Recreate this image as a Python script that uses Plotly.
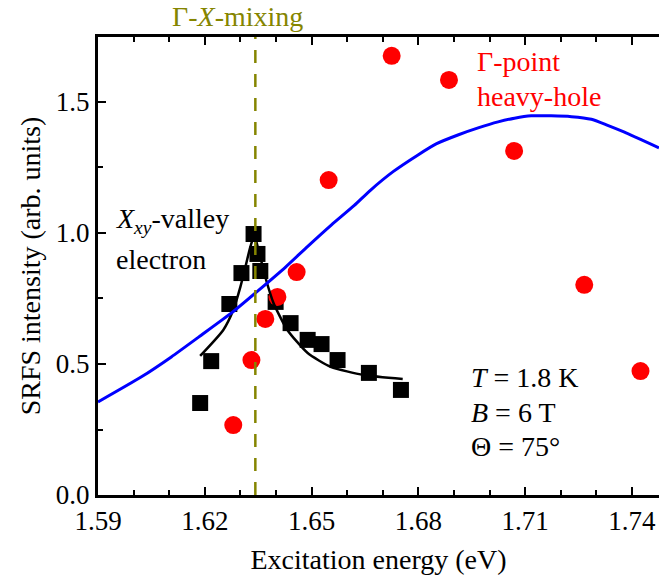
import plotly.graph_objects as go

# --- data ---
sq_x = [1.6187, 1.6218, 1.6269, 1.6303, 1.6337, 1.6348, 1.6356, 1.6399, 1.6441, 1.6489, 1.6528, 1.6573, 1.6661, 1.6751]
sq_y = [0.351, 0.511, 0.729, 0.847, 0.996, 0.920, 0.855, 0.737, 0.656, 0.592, 0.576, 0.515, 0.466, 0.401]

dot_x = [1.6280, 1.6331, 1.6370, 1.6404, 1.6458, 1.6548, 1.6725, 1.6886, 1.7069, 1.7266, 1.7424]
dot_y = [0.267, 0.515, 0.672, 0.756, 0.851, 1.202, 1.676, 1.584, 1.313, 0.802, 0.473]

fit_x = [1.6187, 1.6252, 1.6280, 1.6300, 1.6314, 1.6328, 1.6339, 1.6351, 1.6370, 1.6393, 1.6432, 1.6489, 1.6554, 1.6647, 1.6756]
fit_y = [0.531, 0.630, 0.706, 0.794, 0.870, 0.947, 0.990, 0.935, 0.832, 0.733, 0.630, 0.542, 0.489, 0.458, 0.443]

blue_x = [1.5900, 1.6021, 1.6106, 1.6190, 1.6275, 1.6350, 1.6427, 1.6490, 1.6556, 1.6620, 1.6666, 1.6730,
          1.6799, 1.6850, 1.6911, 1.6970, 1.7024, 1.7070, 1.7117, 1.7173, 1.7230, 1.7286, 1.7330, 1.7379, 1.7476]
blue_y = [0.355, 0.450, 0.527, 0.610, 0.695, 0.780, 0.870, 0.950, 1.031, 1.105, 1.164, 1.235,
          1.298, 1.340, 1.374, 1.402, 1.424, 1.438, 1.447, 1.447, 1.444, 1.434, 1.412, 1.385, 1.325]

mixing_energy = 1.6342

x_range = [1.59, 1.7476]
y_range = [0.0, 1.748]

FONT = "Liberation Serif"
OLIVE = "#858500"

fig = go.Figure()
fig.add_trace(go.Scatter(x=sq_x, y=sq_y, mode="markers",
                         marker=dict(symbol="square", size=16, color="black"), showlegend=False))
fig.add_trace(go.Scatter(x=dot_x, y=dot_y, mode="markers",
                         marker=dict(symbol="circle", size=18, color="#ff0000"), showlegend=False))
fig.add_trace(go.Scatter(x=fit_x, y=fit_y, mode="lines",
                         line=dict(color="black", width=2.5, shape="spline", smoothing=0.6), showlegend=False))
fig.add_trace(go.Scatter(x=blue_x, y=blue_y, mode="lines",
                         line=dict(color="#0000ff", width=3, shape="spline", smoothing=0.5), showlegend=False))

fig.add_shape(type="line", xref="x", yref="paper", x0=mixing_energy, x1=mixing_energy, y0=0, y1=1,
              line=dict(color=OLIVE, width=2.5, dash="13px,11px"))

annotations = [
    dict(x=0.2487, y=1.044, text="Γ-<i>X</i>-mixing", xanchor="center", color=OLIVE),
    dict(x=0.0285, y=0.600, text="<i>X</i><sub><i>xy</i></sub>-valley", xanchor="left", color="#000000"),
    dict(x=0.0285, y=0.515, text="electron", xanchor="left", color="#000000"),
    dict(x=0.672, y=0.947, text="Γ-point", xanchor="left", color="#ff0000"),
    dict(x=0.672, y=0.869, text="heavy-hole", xanchor="left", color="#ff0000"),
    dict(x=0.661, y=0.256, text="<i>T</i> = 1.8 K", xanchor="left", color="#000000"),
    dict(x=0.661, y=0.181, text="<i>B</i> = 6 T", xanchor="left", color="#000000"),
    dict(x=0.661, y=0.105, text="Θ = 75°", xanchor="left", color="#000000"),
]
for a in annotations:
    fig.add_annotation(x=a["x"], y=a["y"], xref="paper", yref="paper", text=a["text"],
                       xanchor=a["xanchor"], yanchor="middle", showarrow=False,
                       font=dict(family=FONT, size=28, color=a["color"]))

fig.update_layout(width=659, height=581, margin=dict(l=98, r=0, t=37, b=86),
                  paper_bgcolor="white", plot_bgcolor="white",
                  font=dict(family=FONT, size=27, color="#000000"))
fig.update_xaxes(range=x_range, tick0=1.59, dtick=0.03, tickformat=".2f",
                 ticks="inside", ticklen=8, tickwidth=2, tickcolor="black",
                 minor=dict(dtick=0.01, ticks="inside", ticklen=5, tickwidth=2, tickcolor="black"),
                 showline=True, linecolor="black", linewidth=3, mirror="ticks",
                 showgrid=False, zeroline=False,
                 tickfont=dict(family=FONT, size=27, color="#000000"),
                 title=dict(text="Excitation energy (eV)", font=dict(family=FONT, size=28, color="#000000"), standoff=14))
fig.update_yaxes(range=y_range, tick0=0, dtick=0.5, tickformat=".1f",
                 ticks="inside", ticklen=8, tickwidth=2, tickcolor="black",
                 minor=dict(dtick=0.25, ticks="inside", ticklen=5, tickwidth=2, tickcolor="black"),
                 showline=True, linecolor="black", linewidth=3,
                 showgrid=False, zeroline=False,
                 tickfont=dict(family=FONT, size=27, color="#000000"),
                 title=dict(text="SRFS intensity (arb. units)", font=dict(family=FONT, size=28, color="#000000"), standoff=8))

fig.write_html("out.html")
